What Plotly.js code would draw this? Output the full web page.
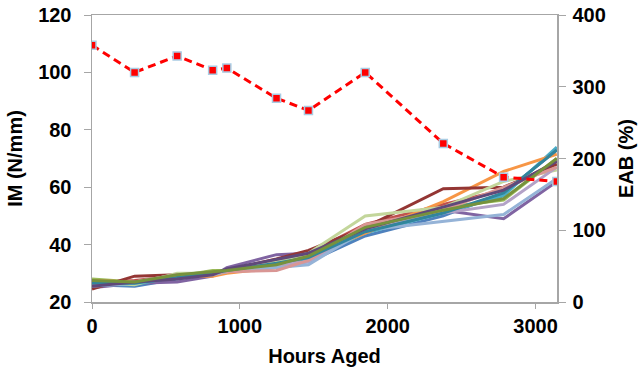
<!DOCTYPE html>
<html>
<head>
<meta charset="utf-8">
<script src="https://cdn.plot.ly/plotly-3.0.1.min.js"></script>
<style>html,body{margin:0;padding:0;background:#fff;}#chart{width:641px;height:375px;}</style>
</head>
<body>
<div id="chart"></div>
<script>
const hours = [0, 288, 576, 816, 912, 1248, 1464, 1848, 2376, 2784, 3144];
const eab = [358, 320, 343, 323, 326, 284, 267, 320, 221, 174, 168];

const imBlue = [26, 25.5, 28, 30, 31, 33, 34, 43, 50, 58, 73];
const imRed = [26.5, 27.5, 29, 30, 31, 34, 37, 47, 54, 59, 69];
const imGreen = [28, 27, 29, 31, 31, 33, 36, 46, 53, 55.5, 70];
const imPurple = [25, 26.5, 27, 29, 32, 36.5, 37, 45, 52, 49, 62];
const imTeal = [26, 26, 29, 30, 31, 34, 35, 44, 51, 57, 74];
const imOrange = [27.5, 27, 29, 29, 30, 32, 36, 44, 55, 65.5, 71.5];
const imDarkRed = [24.5, 29, 29.5, 30, 31, 35, 38, 46, 59.5, 60, 68];
const imLightGreen = [27, 26, 30, 30, 30.5, 34, 37, 50, 53, 62, 66];
const imLightPurple = [26, 27, 29.5, 30, 31, 33, 34, 46, 51, 54, 67];
const imLightBlue = [25.5, 26.5, 29, 29.5, 30.5, 32, 33, 45, 48, 50.5, 63];
const imPink = [26, 27, 29.5, 30, 30.5, 31, 34.5, 47, 52, 60, 67];
const imDarkTeal = [26.5, 26.5, 28.5, 30, 31, 33.5, 35.5, 44.5, 51, 58, 73];
const imDarkPurple = [25.5, 27, 28, 29.5, 31.5, 35, 37, 45.5, 53, 59, 69];
const imDarkGreen = [27.5, 27, 29.5, 30.5, 31, 33, 36, 46, 52, 56, 70];

const imSeries = [
  [imBlue, '#4F81BD'], [imRed, '#C0504D'], [imGreen, '#9BBB59'], [imPurple, '#8064A2'],
  [imTeal, '#4BACC6'], [imOrange, '#F79646'], [imDarkRed, '#943634'], [imLightGreen, '#C3D69B'],
  [imLightPurple, '#B3A2C7'], [imLightBlue, '#95B3D7'], [imPink, '#D99694'], [imDarkTeal, '#31859C'],
  [imDarkPurple, '#5F497A'], [imDarkGreen, '#76923C']
];

const traces = imSeries.map(([y, c]) => ({
  x: hours, y: y, type: 'scatter', mode: 'lines',
  line: {color: c, width: 3}, yaxis: 'y', hoverinfo: 'skip'
}));
traces.push({
  x: hours, y: eab, type: 'scatter', mode: 'lines+markers', yaxis: 'y2',
  line: {color: '#FF0000', width: 3, dash: '8px,5px'},
  marker: {symbol: 'square', size: 8, color: '#FF0000', line: {color: '#A9CCE3', width: 1.5}}
});

const fam = 'Liberation Sans, Arial, sans-serif';
const tf = {family: fam, size: 20, color: '#000', weight: 'bold'};
const axisCol = '#A6A6A6';

const layout = {
  width: 641, height: 375,
  margin: {l: 92, r: 84, t: 15, b: 73},
  paper_bgcolor: '#fff', plot_bgcolor: '#fff',
  showlegend: false,
  font: {family: fam, color: '#000'},
  xaxis: {
    range: [0, 3145], tickvals: [0, 1000, 2000, 3000], ticktext: ['0', '1000', '2000', '3000'],
    showgrid: false, zeroline: false, showline: true, linecolor: axisCol, linewidth: 1.5, mirror: true,
    ticks: 'outside', ticklen: 5, tickcolor: axisCol, tickwidth: 1,
    tickfont: tf,
    title: {text: '<b>Hours Aged</b>', font: {family: fam, size: 20, color: '#000'}, standoff: 13}
  },
  yaxis: {
    range: [20, 120], tickvals: [20, 40, 60, 80, 100, 120],
    showgrid: false, zeroline: false, showline: true, linecolor: axisCol, linewidth: 1.5,
    ticks: 'outside', ticklen: 7, tickcolor: axisCol, tickwidth: 1, ticklabelstandoff: 8,
    tickfont: tf,
    title: {text: '<b>IM (N/mm)</b>', font: {family: fam, size: 20, color: '#000'}, standoff: 10}
  },
  yaxis2: {
    range: [0, 400], tickvals: [0, 100, 200, 300, 400], overlaying: 'y', side: 'right',
    showgrid: false, zeroline: false, showline: true, linecolor: axisCol, linewidth: 1.5,
    ticks: 'outside', ticklen: 7, tickcolor: axisCol, tickwidth: 1, ticklabelstandoff: 3,
    tickfont: tf,
    title: {text: '<b>EAB (%)</b>', font: {family: fam, size: 20, color: '#000'}, standoff: 14}
  }
};

Plotly.newPlot('chart', traces, layout, {displayModeBar: false, staticPlot: true});
</script>
</body>
</html>
